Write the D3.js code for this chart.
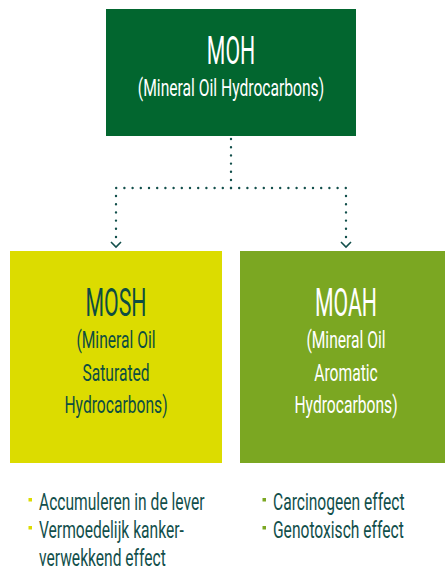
<!DOCTYPE html>
<html>
<head>
<meta charset="utf-8">
<script src="https://cdn.jsdelivr.net/npm/d3@7"></script>
<style>
	html, body { margin: 0; padding: 0; background: #fff; }
	svg text { font-family: Roboto, "DejaVu Sans", sans-serif; }
</style>
</head>
<body>
<div id="chart"></div>
<script>
// boxes: id, title, subtitle lines
var boxIds = ['moh', 'mosh', 'moah']
	, boxTitles = ['MOH', 'MOSH', 'MOAH']
	, boxSubs = [
		['(Mineral Oil Hydrocarbons)'],
		['(Mineral Oil', 'Saturated', 'Hydrocarbons)'],
		['(Mineral Oil', 'Aromatic', 'Hydrocarbons)']
	]
	// bullets under each child box
	, moshBullets = [['Accumuleren in de lever'], ['Vermoedelijk kanker-', 'verwekkend effect']]
	, moahBullets = [['Carcinogeen effect'], ['Genotoxisch effect']]
	;

var W = 445, H = 576
	// horizontal squeeze, reference font is condensed
	, sxTitle = 0.56
	, sxSub = 0.68
	, sxList = 0.65
	, ink = '#124f4b'
	, fills = { moh: '#02662f', mosh: '#dcdc00', moah: '#7ba722' }
	, txt = { moh: '#ffffff', mosh: '#0d4d42', moah: '#ffffff' }
	// box frames
	, frame = {
		moh: { x: 106, y: 9, w: 250, h: 127 },
		mosh: { x: 10, y: 251, w: 212, h: 212 },
		moah: { x: 240, y: 251, w: 210, h: 212 }
	}
	;

var svg = d3.select('#chart').append('svg').attr('width', W).attr('height', H);

var cx = function(id){ return id === 'moah' ? 346 : frame[id].x + frame[id].w/2; };

svg.selectAll('rect.box').data(boxIds).enter().append('rect').attr('class', 'box')
	.attr('x', function(d){ return frame[d].x; })
	.attr('y', function(d){ return frame[d].y; })
	.attr('width', function(d){ return frame[d].w; })
	.attr('height', function(d){ return frame[d].h; })
	.attr('fill', function(d){ return fills[d]; });

// titles and subtitles
boxIds.forEach(function(id, i){
	var top = id === 'moh' ? 64 : 316
		, step = id === 'moh' ? 32 : 32.3;
	svg.append('g').attr('transform', 'translate(' + cx(id) + ',' + top + ') scale(' + sxTitle + ',1)')
		.append('text').attr('text-anchor', 'middle')
		.attr('font-size', 38).attr('fill', txt[id]).text(boxTitles[i]);
	boxSubs[i].forEach(function(line, j){
		svg.append('g').attr('transform', 'translate(' + cx(id) + ',' + (top + step * (j + 1)) + ') scale(' + sxSub + ',1)')
			.append('text').attr('text-anchor', 'middle')
			.attr('font-size', 23).attr('fill', txt[id]).text(line);
	});
});

// dotted connectors
var link = d3.line();
var midY = 188, pcx = cx('moh');
var paths = [
	[[pcx, frame.moh.y + frame.moh.h + 3], [pcx, midY]],
	[[pcx, midY], [cx('mosh'), midY], [cx('mosh'), 243]],
	[[pcx, midY], [cx('moah'), midY], [cx('moah'), 243]]
];
svg.selectAll('path.link').data(paths).enter().append('path').attr('class', 'link')
	.attr('d', link).attr('fill', 'none').attr('stroke', ink).attr('stroke-width', 2.4)
	.attr('stroke-linecap', 'round').attr('stroke-dasharray', '0 8.2');

// chevrons
svg.selectAll('path.arrow').data(['mosh', 'moah']).enter().append('path').attr('class', 'arrow')
	.attr('d', function(d){
		var x = cx(d);
		return 'M' + (x - 5) + ',' + 242 + 'L' + x + ',' + 247 + 'L' + (x + 5) + ',' + 242;
	})
	.attr('fill', 'none').attr('stroke', ink).attr('stroke-width', 1.6);

// bullet lists
function bullets(list, x, color){
	var y = 510;
	list.forEach(function(lines){
		svg.append('rect').attr('x', x).attr('y', y - 12).attr('width', 3.5).attr('height', 3.5).attr('fill', color);
		lines.forEach(function(line){
			svg.append('g').attr('transform', 'translate(' + (x + 10.5) + ',' + y + ') scale(' + sxList + ',1)')
				.append('text').attr('font-size', 24).attr('fill', ink).text(line);
			y += 28;
		});
	});
}
bullets(moshBullets, 28.5, fills.mosh);
bullets(moahBullets, 262.5, fills.moah);
</script>
</body>
</html>
